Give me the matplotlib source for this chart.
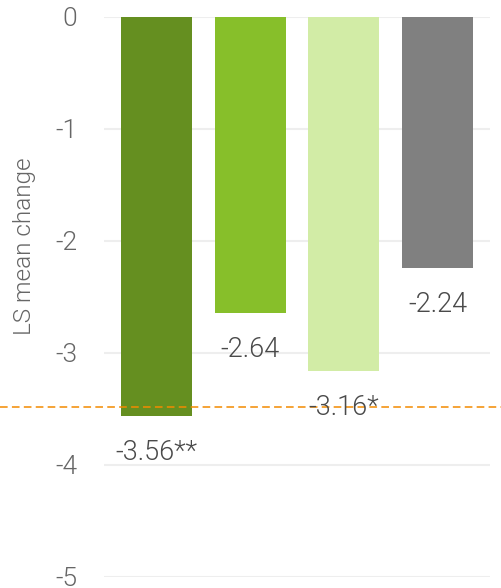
import numpy as np
import matplotlib.pyplot as plt

# valores do gráfico
groups = ['A', 'B', 'C', 'D']
ls_mean = [-3.56, -2.64, -3.16, -2.24]
labels = ['-3.56**', '-2.64', '-3.16*', '-2.24']
ref_line = -3.48
bar_colors = ['#658F20', '#87BF2A', '#D2ECA6', '#808080']

plt.rcParams['font.family'] = ['Roboto', 'DejaVu Sans']

fig = plt.figure(figsize=(5.02, 5.88), dpi=100)
ax = fig.add_axes([104 / 502, 11 / 588, 386 / 502, 560 / 588])

x = np.arange(len(groups))
ax.bar(x, ls_mean, width=0.76, color=bar_colors, zorder=2)

for xi, v, t in zip(x, ls_mean, labels):
    ax.annotate(t, (xi, v), xytext=(0, -16.5), textcoords='offset points',
                ha='center', va='top', fontsize=19.5, color='#4A4A4A',
                fontweight=300, zorder=4)

ax.axhline(ref_line, xmin=-0.27, xmax=1.04, color='#F28A00', lw=1.1,
           ls=(0, (5, 2.8)), clip_on=False, zorder=3)

ax.set_xlim(-0.56, 3.56)
ax.set_ylim(-5, 0)
ax.set_yticks([0, -1, -2, -3, -4, -5])
ax.set_yticklabels(['0', '-1', '-2', '-3', '-4', '-5'])
ax.set_xticks([])
ax.tick_params(axis='y', length=0, pad=19, labelsize=19, labelcolor='#666666')
for lab in ax.get_yticklabels():
    lab.set_fontweight(300)
ax.grid(axis='y', color='#EEEEEE', lw=1.5, zorder=0)
for s in ax.spines.values():
    s.set_visible(False)

ax.set_ylabel('LS mean change', fontsize=17.5, color='#666666', fontweight=300)
ax.yaxis.set_label_coords(-0.175, 0.59)

fig.savefig('out.png', dpi=100)
